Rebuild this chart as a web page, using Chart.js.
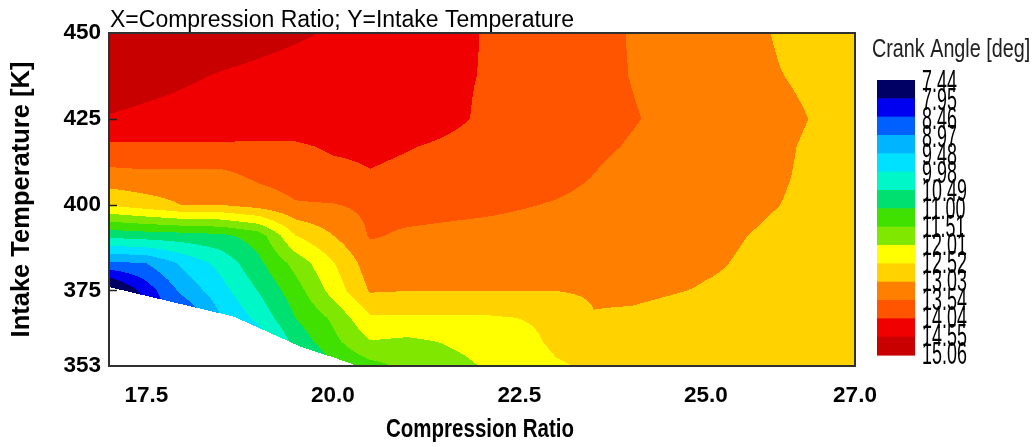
<!DOCTYPE html>
<html>
<head>
<meta charset="utf-8">
<script src="https://cdn.jsdelivr.net/npm/chart.js@4.4.1/dist/chart.umd.min.js"></script>
<style>
  html, body { margin: 0; padding: 0; background: #ffffff; }
  #wrap { width: 1036px; height: 447px; }
</style>
</head>
<body>
<div id="wrap"><canvas id="c" width="1036" height="447"></canvas></div>
<script>
// Sweep grid: compression ratio (columns) x intake temperature (rows)
const compressionRatio = [17, 17.5, 18, 18.5, 19, 19.5, 20, 20.5, 21, 22, 23, 23.5, 24, 25, 26, 27];
const intakeTemp = [353, 360, 367, 375, 383, 391, 400, 408, 417, 425, 437.5, 450];

// Crank angle [deg] at each grid node, one row per intake temperature
const crankAngle = [
  /* 353 */ [6.0, 6.6, 7.4, 8.3, 9.2, 10.0, 11.0, 11.35, 11.62, 12.03, 12.48, 12.57, 12.65, 12.80, 12.85, 12.88],
  /* 360 */ [6.2, 7.2, 7.8, 8.8, 9.6, 10.65, 11.36, 11.98, 11.90, 12.17, 12.60, 12.68, 12.75, 12.85, 12.85, 12.88],
  /* 367 */ [5.3, 8.1, 8.4, 9.45, 10.12, 11.00, 11.60, 12.45, 12.45, 12.45, 12.60, 13.00, 12.96, 12.85, 12.85, 12.88],
  /* 375 */ [7.11, 8.2, 9.13, 9.80, 10.51, 11.29, 12.20, 13.08, 13.04, 13.05, 13.04, 13.10, 13.12, 13.00, 12.93, 12.88],
  /* 383 */ [8.88, 8.98, 9.60, 10.14, 10.88, 11.69, 12.48, 13.30, 13.40, 13.42, 13.40, 13.36, 13.30, 13.08, 12.92, 12.88],
  /* 391 */ [10.64, 10.74, 10.79, 10.89, 11.24, 12.52, 13.02, 13.58, 13.48, 13.40, 13.35, 13.28, 13.20, 13.12, 12.96, 12.85],
  /* 400 */ [12.58, 12.80, 13.05, 13.05, 13.25, 13.50, 13.52, 13.65, 13.70, 13.64, 13.51, 13.43, 13.35, 13.20, 13.03, 12.85],
  /* 408 */ [13.34, 13.40, 13.39, 13.38, 13.62, 13.75, 13.90, 14.01, 13.95, 13.85, 13.66, 13.53, 13.40, 13.22, 13.06, 12.85],
  /* 417 */ [13.95, 13.96, 13.97, 13.98, 13.96, 13.98, 14.10, 14.12, 14.06, 13.92, 13.72, 13.62, 13.51, 13.30, 13.08, 12.85],
  /* 425 */ [14.52, 14.45, 14.40, 14.37, 14.34, 14.32, 14.35, 14.36, 14.25, 14.00, 13.77, 13.67, 13.57, 13.35, 13.12, 12.88],
  /* 437.5 */ [14.80, 14.71, 14.61, 14.52, 14.45, 14.38, 14.31, 14.24, 14.17, 14.03, 13.78, 13.66, 13.53, 13.28, 13.04, 12.85],
  /* 450 */ [15.06, 14.97, 14.88, 14.79, 14.70, 14.61, 14.51, 14.42, 14.30, 14.03, 13.78, 13.65, 13.52, 13.29, 12.99, 12.85]
];

// Lower edge of the operating region (no results below this line)
const edgeRatio = [17, 18.67, 19.57, 20.05, 20.33];
const edgeTemp = [376.0, 367.4, 358.6, 355.2, 353];

// Contour levels and band colours (lowest band first)
const contourLevels = [7.44, 7.95, 8.46, 8.97, 9.48, 9.98, 10.49, 11.00, 11.51, 12.01, 12.52, 13.03, 13.54, 14.04, 14.55, 15.06];
const bandColors = ['#000064', '#0000f0', '#0060ff', '#00b4ff', '#00e0ff', '#00f8c8', '#00e070', '#40e000',
                    '#80e800', '#ffff00', '#ffd200', '#ff8000', '#ff5500', '#f00000', '#c80000'];

const xTicks = [17.5, 20.0, 22.5, 25.0, 27.0];
const yTicks = [353, 375, 400, 425, 450];

const FONT = "'Liberation Sans', Arial, sans-serif";

function hexToRgb(h) {
  const n = parseInt(h.slice(1), 16);
  return [(n >> 16) & 255, (n >> 8) & 255, n & 255];
}

function findCell(arr, v) {
  if (v <= arr[0]) return 0;
  for (let i = 0; i < arr.length - 1; i++) if (v <= arr[i + 1]) return i;
  return arr.length - 2;
}

function sampleField(xv, yv) {
  const i = findCell(compressionRatio, xv);
  const j = findCell(intakeTemp, yv);
  const tx = (xv - compressionRatio[i]) / (compressionRatio[i + 1] - compressionRatio[i]);
  const ty = (yv - intakeTemp[j]) / (intakeTemp[j + 1] - intakeTemp[j]);
  const a = crankAngle[j][i], b = crankAngle[j][i + 1];
  const c = crankAngle[j + 1][i], d = crankAngle[j + 1][i + 1];
  return (a * (1 - tx) + b * tx) * (1 - ty) + (c * (1 - tx) + d * tx) * ty;
}

function edgeAt(xv) {
  if (xv >= edgeRatio[edgeRatio.length - 1]) return -Infinity;
  const k = findCell(edgeRatio, xv);
  const t = (xv - edgeRatio[k]) / (edgeRatio[k + 1] - edgeRatio[k]);
  return edgeTemp[k] + (edgeTemp[k + 1] - edgeTemp[k]) * t;
}

function bandOf(v) {
  for (let k = 0; k < bandColors.length; k++) {
    if (v < contourLevels[k + 1]) return k;
  }
  return bandColors.length - 1;
}

// Filled contour raster, sampled through the chart's scales
const contourPlugin = {
  id: 'contourFill',
  beforeDatasetsDraw(chart) {
    const { ctx, chartArea: a, scales: { x, y } } = chart;
    const left = Math.round(a.left), top = Math.round(a.top);
    const w = Math.round(a.right) - left, h = Math.round(a.bottom) - top;
    const off = document.createElement('canvas');
    off.width = w; off.height = h;
    const octx = off.getContext('2d');
    const img = octx.createImageData(w, h);
    const rgb = bandColors.map(hexToRgb);
    const xs = [];
    for (let i = 0; i < w; i++) xs.push(x.getValueForPixel(left + i + 0.5));
    const edges = xs.map(edgeAt);
    for (let j = 0; j < h; j++) {
      const yv = y.getValueForPixel(top + j + 0.5);
      for (let i = 0; i < w; i++) {
        const p = (j * w + i) * 4;
        if (yv < edges[i]) {
          img.data[p] = 255; img.data[p + 1] = 255; img.data[p + 2] = 255; img.data[p + 3] = 255;
          continue;
        }
        const c = rgb[bandOf(sampleField(xs[i], yv))];
        img.data[p] = c[0]; img.data[p + 1] = c[1]; img.data[p + 2] = c[2]; img.data[p + 3] = 255;
      }
    }
    octx.putImageData(img, 0, 0);
    ctx.drawImage(off, left, top);
  }
};

// Frame, inner ticks, headings and colour bar
const decorPlugin = {
  id: 'decor',
  afterDraw(chart) {
    const { ctx, chartArea: a, scales: { y } } = chart;
    ctx.save();
    // plot frame
    ctx.strokeStyle = '#303030';
    ctx.lineWidth = 2;
    ctx.strokeRect(a.left, a.top, a.right - a.left, a.bottom - a.top);
    // short inner ticks on the temperature axis
    ctx.lineWidth = 1.5;
    ctx.strokeStyle = '#202020';
    yTicks.slice(1, -1).forEach(v => {
      const py = Math.round(y.getPixelForValue(v)) + 0.5;
      ctx.beginPath(); ctx.moveTo(a.left, py); ctx.lineTo(a.left + 8, py); ctx.stroke();
    });
    // heading
    ctx.fillStyle = '#000';
    ctx.font = '23px ' + FONT;
    ctx.textBaseline = 'alphabetic';
    ctx.textAlign = 'left';
    ctx.fillText('X=Compression Ratio; Y=Intake Temperature', a.left + 1, 27);

    // x axis title (condensed)
    ctx.save();
    ctx.translate((a.left + a.right) / 2 - 2, 437);
    ctx.scale(0.82, 1);
    ctx.font = 'bold 25px ' + FONT;
    ctx.textAlign = 'center';
    ctx.fillText('Compression Ratio', 0, 0);
    ctx.restore();

    // colour bar
    const barX = a.right + 22, barW = 38, barTop = 80, barH = 275;
    const bh = barH / bandColors.length;
    bandColors.forEach((col, k) => {
      ctx.fillStyle = col;
      ctx.fillRect(barX, barTop + k * bh, barW, bh + 0.6);
    });
    // colour bar title
    ctx.fillStyle = '#202020';
    ctx.textAlign = 'left';
    ctx.save();
    ctx.translate(a.right + 17, 57);
    ctx.scale(0.76, 1);
    ctx.font = '26px ' + FONT;
    ctx.fillText('Crank Angle [deg]', 0, 0);
    ctx.restore();
    // level labels
    ctx.fillStyle = '#000';
    ctx.textBaseline = 'middle';
    contourLevels.forEach((lv, k) => {
      ctx.save();
      ctx.translate(barX + barW + 7, barTop + 3.5 + k * (bh - 0.23));
      ctx.scale(0.56, 1);
      ctx.font = '32px ' + FONT;
      ctx.fillText(lv.toFixed(2), 0, 0);
      ctx.restore();
    });
    ctx.restore();
  }
};

const nodes = [];
intakeTemp.forEach((t, j) => compressionRatio.forEach((cr, i) => nodes.push({ x: cr, y: t, v: crankAngle[j][i] })));

const gridColor = (edgeVals) => (c) => (c.tick && edgeVals.includes(c.tick.value)) ? 'rgba(0,0,0,0)' : '#c4c4c4';

new Chart(document.getElementById('c'), {
  type: 'scatter',
  data: { datasets: [{ data: nodes, pointRadius: 0, showLine: false }] },
  options: {
    responsive: false,
    devicePixelRatio: 1,
    animation: false,
    events: [],
    layout: { padding: { top: 33, right: 181, left: 0, bottom: 0 } },
    plugins: { legend: { display: false }, tooltip: { enabled: false }, title: { display: false } },
    scales: {
      x: {
        type: 'linear', min: 17, max: 27, z: 1,
        afterBuildTicks: (s) => { s.ticks = xTicks.map(v => ({ value: v })); },
        afterFit: (s) => { s.height = 81; },
        grid: { color: gridColor([17, 27]), lineWidth: 1, drawTicks: false },
        border: { display: false },
        ticks: {
          autoSkip: false, maxRotation: 0, padding: 16, color: '#000',
          font: { family: FONT, size: 22.5, weight: 'bold' },
          callback: (v) => Number(v).toFixed(1)
        },
        title: { display: false }
      },
      y: {
        type: 'linear', min: 353, max: 450, z: 1,
        afterBuildTicks: (s) => { s.ticks = yTicks.map(v => ({ value: v })); },
        afterFit: (s) => { s.width = 109; },
        grid: { color: gridColor([353, 450]), lineWidth: 1, drawTicks: false },
        border: { display: false },
        ticks: {
          autoSkip: false, padding: 8, color: '#000',
          font: { family: FONT, size: 22.5, weight: 'bold' },
          callback: (v) => String(v)
        },
        title: {
          display: true, text: 'Intake Temperature [K]', color: '#000',
          font: { family: FONT, size: 25.5, weight: 'bold' }, padding: { top: 7, bottom: 0 }
        }
      }
    }
  },
  plugins: [contourPlugin, decorPlugin]
});
</script>
</body>
</html>
